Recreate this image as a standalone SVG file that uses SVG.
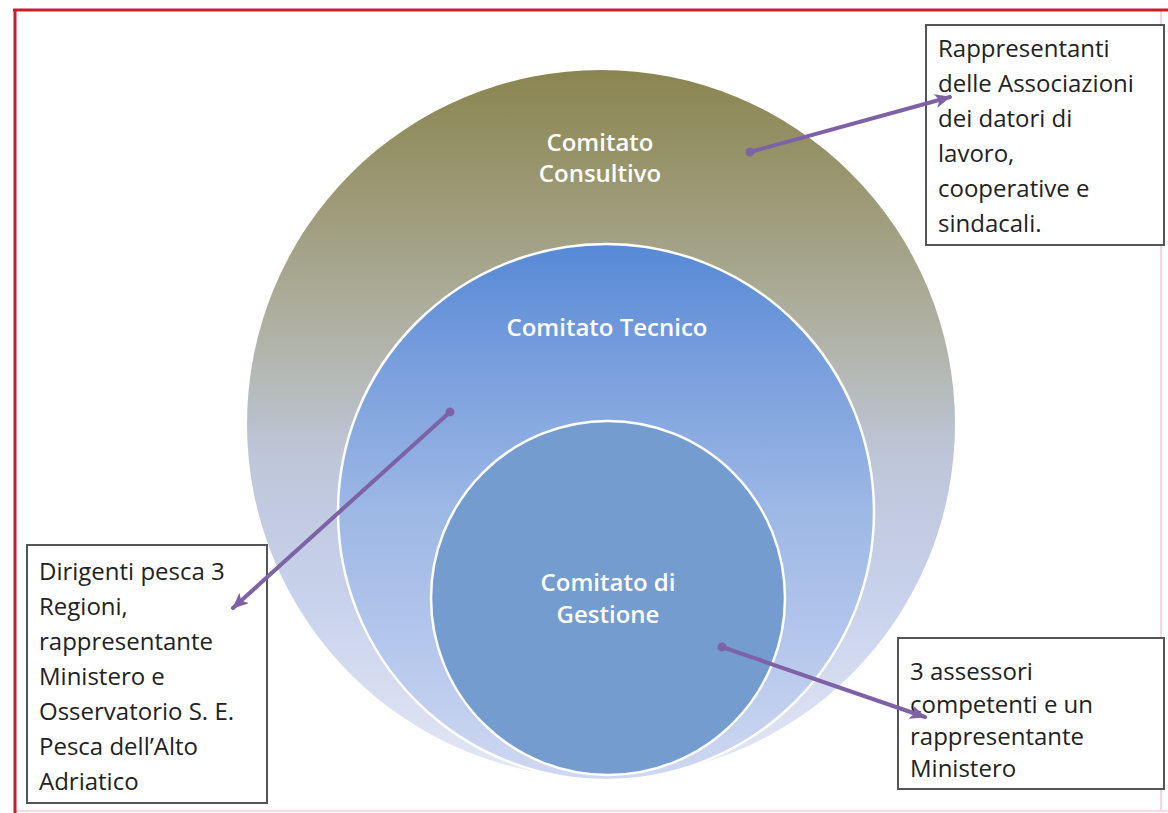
<svg xmlns="http://www.w3.org/2000/svg" width="1168" height="813" viewBox="0 0 1168 813">
  <defs>
    <linearGradient id="gOuter" x1="0" y1="0" x2="0" y2="1">
      <stop offset="0" stop-color="#8a854f"/>
      <stop offset="0.2" stop-color="#9e9c7a"/>
      <stop offset="0.38" stop-color="#b1b3a7"/>
      <stop offset="0.55" stop-color="#bec6da"/>
      <stop offset="0.75" stop-color="#c8d2ec"/>
      <stop offset="1" stop-color="#e4e8f5"/>
    </linearGradient>
    <linearGradient id="gMid" x1="0" y1="0" x2="0" y2="1">
      <stop offset="0" stop-color="#5789d6"/>
      <stop offset="0.25" stop-color="#7ca1de"/>
      <stop offset="0.5" stop-color="#9db8e5"/>
      <stop offset="0.75" stop-color="#b5c7ec"/>
      <stop offset="1" stop-color="#cfd8f1"/>
    </linearGradient>
    <marker id="arrow" markerUnits="userSpaceOnUse" markerWidth="16" markerHeight="14" refX="15" refY="7" orient="auto">
      <path d="M0,0 L16,7 L0,14 L4,7 z" fill="#7d62a6"/>
    </marker>
    <marker id="dot" markerUnits="userSpaceOnUse" markerWidth="10" markerHeight="10" refX="5" refY="5" orient="auto">
      <circle cx="5" cy="5" r="4.5" fill="#7d62a6"/>
    </marker>
  </defs>
  <style>
    .lbl { font-family: "Open Sans", "Liberation Sans", sans-serif; font-weight: 600; font-size: 24px; fill: #ffffff; text-anchor: middle; }
    .box { fill: #ffffff; stroke: #555555; stroke-width: 2; }
    .txt { font-family: "Open Sans", "Liberation Sans", sans-serif; font-size: 24px; fill: #222222; }
    .conn { stroke: #7d62a6; stroke-width: 4; fill: none; stroke-linecap: round; marker-start: url(#dot); marker-end: url(#arrow); }
  </style>

  <rect x="0" y="0" width="1168" height="813" fill="#ffffff"/>
  <g id="frame">
    <line x1="1161" y1="10" x2="1161" y2="812" stroke="#f6d6da" stroke-width="2"/>
    <line x1="15" y1="811" x2="1168" y2="811" stroke="#f8dde0" stroke-width="2"/>
    <line x1="13" y1="10" x2="1168" y2="10" stroke="#c4202c" stroke-width="3"/>
    <line x1="15" y1="9" x2="15" y2="813" stroke="#c4202c" stroke-width="3"/>
  </g>

  <g id="consultivo">
    <circle cx="601" cy="424" r="354" fill="url(#gOuter)"/>
    <text class="lbl" x="600" y="151">Comitato</text>
    <text class="lbl" x="600" y="182">Consultivo</text>
  </g>

  <g id="tecnico">
    <circle cx="606" cy="512" r="268" fill="url(#gMid)" stroke="#ffffff" stroke-width="2.5"/>
    <text class="lbl" x="607" y="336">Comitato Tecnico</text>
  </g>

  <g id="gestione">
    <circle cx="608" cy="598" r="177" fill="#749ccf" stroke="#ffffff" stroke-width="2.5"/>
    <text class="lbl" x="608" y="591">Comitato di</text>
    <text class="lbl" x="608" y="623">Gestione</text>
  </g>

  <g id="box-associazioni">
    <rect class="box" x="926" y="25" width="238" height="220"/>
    <text class="txt" x="938" y="57">Rappresentanti</text>
    <text class="txt" x="938" y="92">delle Associazioni</text>
    <text class="txt" x="938" y="127">dei datori di</text>
    <text class="txt" x="938" y="162">lavoro,</text>
    <text class="txt" x="938" y="197">cooperative e</text>
    <text class="txt" x="938" y="232">sindacali.</text>
  </g>

  <g id="box-dirigenti">
    <rect class="box" x="27" y="545" width="240" height="258"/>
    <text class="txt" x="39" y="580">Dirigenti pesca 3</text>
    <text class="txt" x="39" y="615">Regioni,</text>
    <text class="txt" x="39" y="650">rappresentante</text>
    <text class="txt" x="39" y="685">Ministero e</text>
    <text class="txt" x="39" y="720">Osservatorio S. E.</text>
    <text class="txt" x="39" y="755">Pesca dell’Alto</text>
    <text class="txt" x="39" y="790">Adriatico</text>
  </g>

  <g id="box-assessori">
    <rect class="box" x="898" y="638" width="266" height="151"/>
    <text class="txt" x="910" y="680">3 assessori</text>
    <text class="txt" x="910" y="713">competenti e un</text>
    <text class="txt" x="910" y="745">rappresentante</text>
    <text class="txt" x="910" y="777">Ministero</text>
  </g>

  <g id="connectors">
    <line class="conn" x1="750" y1="152" x2="950" y2="97"/>
    <line class="conn" x1="450" y1="412" x2="233" y2="608"/>
    <line class="conn" x1="722" y1="647" x2="925" y2="717"/>
  </g>
</svg>
